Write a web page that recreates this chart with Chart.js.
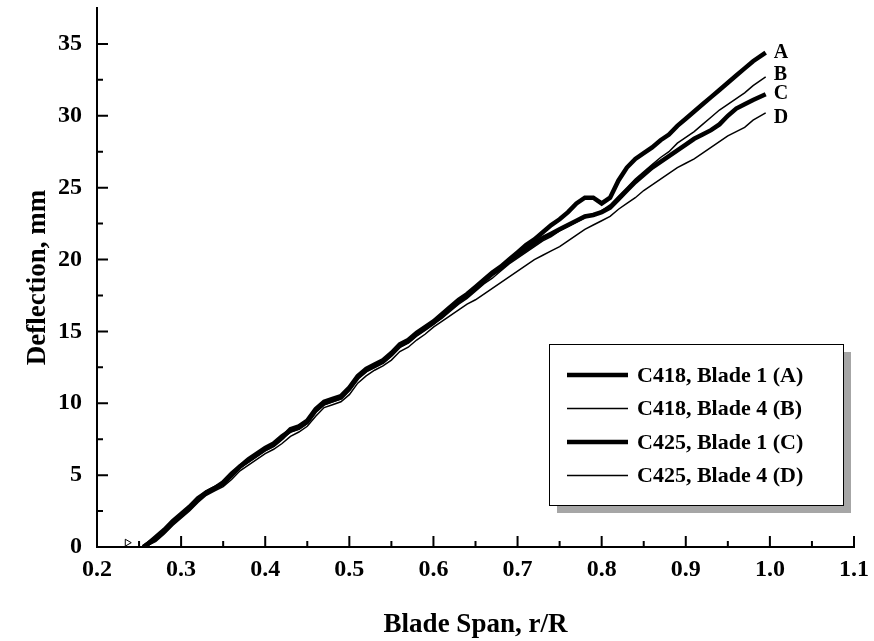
<!DOCTYPE html>
<html>
<head>
<meta charset="utf-8">
<script src="https://cdn.jsdelivr.net/npm/chart.js@4/dist/chart.umd.min.js"></script>
<style>
  html, body { margin: 0; padding: 0; background: #fff; }
  canvas { display: block; }
</style>
</head>
<body>
<canvas id="deflectionChart" width="874" height="641"></canvas>
<script>
// --- Data ---
const spanX = [0.255, 0.26, 0.27, 0.28, 0.29, 0.30, 0.31, 0.32, 0.33, 0.34,
    0.35, 0.36, 0.37, 0.38, 0.39, 0.40, 0.41, 0.42, 0.43, 0.44,
    0.45, 0.46, 0.47, 0.48, 0.49, 0.50, 0.51, 0.52, 0.53, 0.54,
    0.55, 0.56, 0.57, 0.58, 0.59, 0.60, 0.61, 0.62, 0.63, 0.64,
    0.65, 0.66, 0.67, 0.68, 0.69, 0.70, 0.71, 0.72, 0.73, 0.74,
    0.75, 0.76, 0.77, 0.78, 0.79, 0.80, 0.81, 0.82, 0.83, 0.84,
    0.85, 0.86, 0.87, 0.88, 0.89, 0.90, 0.91, 0.92, 0.93, 0.94,
    0.95, 0.96, 0.97, 0.98, 0.995];

const c418Blade1 = [0, 0.2, 0.6, 1.1, 1.7, 2.2, 2.7, 3.3, 3.8, 4.1,
    4.4, 5.0, 5.6, 6.0, 6.4, 6.8, 7.1, 7.6, 8.2, 8.4,
    8.8, 9.6, 10.1, 10.3, 10.5, 11.1, 11.9, 12.4, 12.7, 13.0,
    13.5, 14.1, 14.4, 14.9, 15.3, 15.7, 16.2, 16.7, 17.2, 17.6,
    18.1, 18.6, 19.1, 19.5, 20.0, 20.5, 21.0, 21.4, 21.9, 22.4,
    22.8, 23.3, 23.9, 24.3, 24.3, 23.9, 24.3, 25.5, 26.4, 27.0,
    27.4, 27.8, 28.3, 28.7, 29.3, 29.8, 30.3, 30.8, 31.3, 31.8,
    32.3, 32.8, 33.3, 33.8, 34.4];

const c418Blade4 = [0, 0.1, 0.5, 1.0, 1.6, 2.1, 2.6, 3.2, 3.7, 4.0,
    4.3, 4.9, 5.5, 5.9, 6.3, 6.7, 7.0, 7.5, 8.0, 8.2,
    8.6, 9.4, 9.9, 10.1, 10.3, 10.9, 11.7, 12.2, 12.5, 12.8,
    13.3, 13.9, 14.2, 14.7, 15.1, 15.5, 15.9, 16.4, 16.9, 17.3,
    17.8, 18.3, 18.7, 19.2, 19.7, 20.1, 20.5, 20.9, 21.3, 21.6,
    22.0, 22.3, 22.6, 22.9, 23.1, 23.4, 23.8, 24.4, 25.0, 25.6,
    26.1, 26.6, 27.1, 27.5, 28.1, 28.5, 28.9, 29.4, 29.9, 30.4,
    30.8, 31.2, 31.6, 32.1, 32.7];

const c425Blade1 = [0, 0.2, 0.7, 1.2, 1.8, 2.3, 2.8, 3.4, 3.8, 4.1,
    4.5, 5.1, 5.6, 6.1, 6.5, 6.9, 7.2, 7.7, 8.1, 8.3,
    8.7, 9.5, 10.0, 10.2, 10.4, 11.0, 11.8, 12.3, 12.6, 12.9,
    13.4, 14.0, 14.3, 14.8, 15.2, 15.6, 16.1, 16.6, 17.1, 17.5,
    18.0, 18.5, 19.0, 19.4, 19.9, 20.3, 20.7, 21.1, 21.5, 21.8,
    22.1, 22.4, 22.7, 23.0, 23.1, 23.3, 23.6, 24.2, 24.8, 25.4,
    25.9, 26.4, 26.8, 27.2, 27.6, 28.0, 28.4, 28.7, 29.0, 29.4,
    30.0, 30.5, 30.8, 31.1, 31.5];

const c425Blade4 = [0, 0.1, 0.4, 0.9, 1.5, 2.0, 2.5, 3.1, 3.6, 3.9,
    4.2, 4.7, 5.3, 5.7, 6.1, 6.5, 6.8, 7.2, 7.7, 8.0,
    8.4, 9.1, 9.7, 9.9, 10.1, 10.6, 11.4, 11.9, 12.3, 12.6,
    13.0, 13.6, 13.9, 14.4, 14.8, 15.3, 15.7, 16.1, 16.5, 16.9,
    17.2, 17.6, 18.0, 18.4, 18.8, 19.2, 19.6, 20.0, 20.3, 20.6,
    20.9, 21.3, 21.7, 22.1, 22.4, 22.7, 23.0, 23.5, 23.9, 24.3,
    24.8, 25.2, 25.6, 26.0, 26.4, 26.7, 27.0, 27.4, 27.8, 28.2,
    28.6, 28.9, 29.2, 29.7, 30.2];

// small stray marker near the origin
const strayX = [0.236];
const strayY = [0.3];

const seriesNames = ['C418, Blade 1 (A)', 'C418, Blade 4 (B)', 'C425, Blade 1 (C)', 'C425, Blade 4 (D)'];
const endTags = ['A', 'B', 'C', 'D'];
const seriesValues = [c418Blade1, c418Blade4, c425Blade1, c425Blade4];
const seriesWidths = [4.5, 1.5, 4.5, 1.5];

const FONT = '"Liberation Serif", "Times New Roman", serif';

// --- Plugin: inward major/minor tick marks ---
const innerTicksPlugin = {
    id: 'innerTicks',
    afterDraw(chart) {
        const ctx = chart.ctx;
        const xs = chart.scales.x;
        const ys = chart.scales.y;
        const area = chart.chartArea;
        ctx.save();
        ctx.strokeStyle = '#000';
        ctx.lineWidth = 2;
        ctx.beginPath();
        for (let i = 0; i <= 18; i++) {
            const v = 0.2 + i * 0.05;
            const px = xs.getPixelForValue(v);
            const len = i % 2 === 0 ? 11 : 6;
            ctx.moveTo(px, area.bottom);
            ctx.lineTo(px, area.bottom - len);
        }
        for (let i = 1; i <= 14; i++) {
            const v = i * 2.5;
            const py = ys.getPixelForValue(v);
            const len = i % 2 === 0 ? 11 : 6;
            ctx.moveTo(area.left, py);
            ctx.lineTo(area.left + len, py);
        }
        ctx.stroke();
        ctx.restore();
    }
};

// --- Plugin: letters at the end of each curve ---
const endTagPlugin = {
    id: 'endTags',
    afterDatasetsDraw(chart) {
        const ctx = chart.ctx;
        const nudge = [0, -2, 0, 5]; // keep the letters apart like the original
        ctx.save();
        ctx.font = `bold 20px ${FONT}`;
        ctx.fillStyle = '#000';
        ctx.textBaseline = 'middle';
        endTags.forEach((tag, i) => {
            const meta = chart.getDatasetMeta(i);
            const last = meta.data[meta.data.length - 1];
            ctx.fillText(tag, last.x + 8, last.y + nudge[i]);
        });
        ctx.restore();
    }
};

// --- Plugin: boxed legend with drop shadow ---
const boxLegendPlugin = {
    id: 'boxLegend',
    afterDraw(chart) {
        const ctx = chart.ctx;
        const left = 549, top = 344, w = 294, h = 161;
        ctx.save();
        ctx.fillStyle = '#a6a6a6';
        ctx.fillRect(left + 8, top + 8, w, h);
        ctx.fillStyle = '#fff';
        ctx.fillRect(left, top, w, h);
        ctx.strokeStyle = '#000';
        ctx.lineWidth = 1;
        ctx.strokeRect(left + 0.5, top + 0.5, w, h);

        ctx.font = `bold 22px ${FONT}`;
        ctx.fillStyle = '#000';
        ctx.textBaseline = 'middle';
        seriesNames.forEach((name, i) => {
            const y = top + 31 + i * 33.5;
            ctx.beginPath();
            ctx.lineWidth = seriesWidths[i];
            ctx.moveTo(left + 18, y);
            ctx.lineTo(left + 79, y);
            ctx.stroke();
            ctx.fillText(name, left + 88, y + 1);
        });
        ctx.restore();
    }
};

const datasets = seriesValues.map((vals, i) => ({
    label: seriesNames[i],
    data: spanX.map((x, j) => ({ x, y: vals[j] })),
    borderColor: '#000',
    backgroundColor: '#000',
    borderWidth: seriesWidths[i],
    pointRadius: 0,
    tension: 0,
    fill: false
}));

datasets.push({
    label: 'stray',
    data: strayX.map((x, j) => ({ x, y: strayY[j] })),
    showLine: false,
    pointStyle: 'triangle',
    rotation: 90,
    pointRadius: 4,
    borderWidth: 1,
    borderColor: '#000',
    backgroundColor: 'rgba(0,0,0,0)'
});

const axisFont = { family: FONT, size: 24, weight: 'bold' };
const titleFont = { family: FONT, size: 27, weight: 'bold' };

new Chart(document.getElementById('deflectionChart').getContext('2d'), {
    type: 'line',
    data: { datasets },
    options: {
        responsive: false,
        animation: false,
        layout: { padding: { top: 8, right: 20, left: 0, bottom: 0 } },
        plugins: {
            legend: { display: false },
            tooltip: { enabled: false }
        },
        scales: {
            x: {
                type: 'linear',
                min: 0.2,
                max: 1.1,
                afterFit: (scale) => {
                    scale.height = 94;
                    scale.paddingLeft = 0;
                    scale.paddingRight = 0;
                },
                ticks: {
                    stepSize: 0.1,
                    autoSkip: false,
                    maxRotation: 0,
                    padding: 8,
                    color: '#000',
                    font: axisFont,
                    callback: (v) => Number(v).toFixed(1)
                },
                grid: { display: false, drawTicks: false },
                border: { display: true, color: '#000', width: 2 },
                title: {
                    display: true,
                    text: 'Blade Span, r/R',
                    color: '#000',
                    font: titleFont,
                    padding: { top: 0, bottom: 0 }
                }
            },
            y: {
                min: 0,
                max: 37.5,
                afterFit: (scale) => {
                    scale.width = 97;
                    scale.paddingTop = 0;
                    scale.paddingBottom = 0;
                },
                ticks: {
                    stepSize: 5,
                    includeBounds: false,
                    padding: 15,
                    color: '#000',
                    font: axisFont
                },
                grid: { display: false, drawTicks: false },
                border: { display: true, color: '#000', width: 2 },
                title: {
                    display: true,
                    text: 'Deflection, mm',
                    color: '#000',
                    font: titleFont,
                    padding: { top: 22, bottom: 0 }
                }
            }
        }
    },
    plugins: [innerTicksPlugin, endTagPlugin, boxLegendPlugin]
});
</script>
</body>
</html>
